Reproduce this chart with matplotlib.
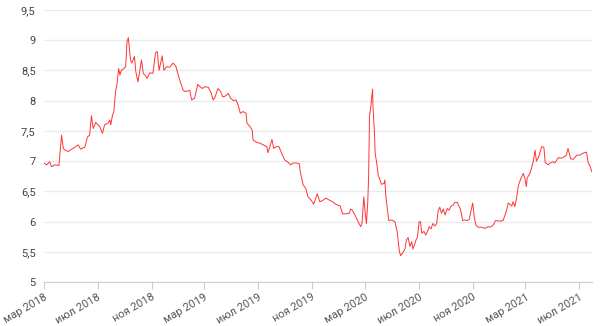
import matplotlib
matplotlib.use("Agg")
import matplotlib.pyplot as plt
import matplotlib.dates as mdates
from matplotlib.ticker import FuncFormatter, MultipleLocator
import pandas as pd

plt.rcParams['font.family'] = ['Roboto', 'DejaVu Sans']

# series
dates = [
    "2018-03-01", "2018-03-07", "2018-03-14", "2018-03-18", "2018-03-26", "2018-04-04",
    "2018-04-10", "2018-04-14", "2018-04-18", "2018-04-25", "2018-05-06", "2018-05-18",
    "2018-05-23", "2018-06-02", "2018-06-08", "2018-06-13", "2018-06-17", "2018-06-21",
    "2018-06-27", "2018-07-02", "2018-07-06", "2018-07-12", "2018-07-17", "2018-07-25",
    "2018-07-29", "2018-07-31", "2018-08-04", "2018-08-07", "2018-08-11", "2018-08-14",
    "2018-08-18", "2018-08-21", "2018-08-24", "2018-08-30", "2018-09-03", "2018-09-06",
    "2018-09-09", "2018-09-14", "2018-09-17", "2018-09-23", "2018-09-26", "2018-10-01",
    "2018-10-09", "2018-10-13", "2018-10-17", "2018-10-22", "2018-10-28", "2018-11-04",
    "2018-11-10", "2018-11-14", "2018-11-18", "2018-11-25", "2018-11-29", "2018-12-05",
    "2018-12-12", "2018-12-20", "2018-12-26", "2019-01-04", "2019-01-12", "2019-01-16",
    "2019-01-23", "2019-01-27", "2019-01-31", "2019-02-07", "2019-02-14", "2019-02-19",
    "2019-02-25", "2019-03-02", "2019-03-10", "2019-03-17", "2019-03-21", "2019-03-25",
    "2019-04-01", "2019-04-07", "2019-04-12", "2019-04-19", "2019-04-24", "2019-04-30",
    "2019-05-06", "2019-05-12", "2019-05-17", "2019-05-22", "2019-05-28", "2019-06-04",
    "2019-06-06", "2019-06-13", "2019-06-18", "2019-06-20", "2019-06-28", "2019-07-05",
    "2019-07-13", "2019-07-21", "2019-07-24", "2019-07-28", "2019-08-02", "2019-08-06",
    "2019-08-12", "2019-08-18", "2019-08-24", "2019-08-31", "2019-09-08", "2019-09-13",
    "2019-09-19", "2019-09-28", "2019-10-03", "2019-10-06", "2019-10-12", "2019-10-18",
    "2019-10-23", "2019-10-29", "2019-11-05", "2019-11-13", "2019-11-19", "2019-11-25",
    "2019-12-03", "2019-12-10", "2019-12-18", "2019-12-25", "2020-01-04", "2020-01-10",
    "2020-01-17", "2020-01-25", "2020-01-28", "2020-02-01", "2020-02-07", "2020-02-14",
    "2020-02-20", "2020-02-23", "2020-02-27", "2020-03-01", "2020-03-04", "2020-03-07",
    "2020-03-09", "2020-03-11", "2020-03-14", "2020-03-18", "2020-03-19", "2020-03-22",
    "2020-03-24", "2020-03-28", "2020-03-31", "2020-04-04", "2020-04-07", "2020-04-13",
    "2020-04-15", "2020-04-17", "2020-04-20", "2020-04-24", "2020-04-30", "2020-05-08",
    "2020-05-13", "2020-05-18", "2020-05-21", "2020-05-27", "2020-05-31", "2020-06-03",
    "2020-06-07", "2020-06-11", "2020-06-15", "2020-06-18", "2020-06-25", "2020-06-28",
    "2020-07-02", "2020-07-05", "2020-07-08", "2020-07-13", "2020-07-17", "2020-07-21",
    "2020-07-25", "2020-07-29", "2020-08-02", "2020-08-07", "2020-08-11", "2020-08-14",
    "2020-08-18", "2020-08-22", "2020-08-26", "2020-08-30", "2020-09-04", "2020-09-08",
    "2020-09-12", "2020-09-18", "2020-09-21", "2020-09-27", "2020-10-01", "2020-10-04",
    "2020-10-09", "2020-10-14", "2020-10-20", "2020-10-24", "2020-10-29", "2020-11-01",
    "2020-11-05", "2020-11-08", "2020-11-13", "2020-11-21", "2020-11-29", "2020-12-06",
    "2020-12-12", "2020-12-18", "2020-12-23", "2021-01-02", "2021-01-09", "2021-01-16",
    "2021-01-21", "2021-01-29", "2021-02-01", "2021-02-05", "2021-02-09", "2021-02-13",
    "2021-02-18", "2021-02-24", "2021-02-28", "2021-03-03", "2021-03-05", "2021-03-12",
    "2021-03-16", "2021-03-19", "2021-03-23", "2021-03-26", "2021-03-30", "2021-04-03",
    "2021-04-07", "2021-04-12", "2021-04-15", "2021-04-22", "2021-04-26", "2021-05-03",
    "2021-05-07", "2021-05-15", "2021-05-22", "2021-05-30", "2021-06-02", "2021-06-06",
    "2021-06-12", "2021-06-18", "2021-06-26", "2021-07-03", "2021-07-09", "2021-07-14",
    "2021-07-18", "2021-07-22", "2021-07-26", "2021-07-30",
]
values = [
    6.97, 6.94, 6.99, 6.91, 6.94, 6.93,
    7.43, 7.21, 7.18, 7.16, 7.21, 7.27,
    7.20, 7.23, 7.40, 7.43, 7.75, 7.54,
    7.64, 7.60, 7.57, 7.46, 7.60, 7.63,
    7.68, 7.60, 7.76, 7.82, 8.15, 8.26,
    8.53, 8.42, 8.50, 8.53, 8.56, 8.97,
    9.04, 8.67, 8.62, 8.73, 8.48, 8.31,
    8.67, 8.45, 8.42, 8.37, 8.46, 8.45,
    8.79, 8.81, 8.50, 8.74, 8.50, 8.56,
    8.55, 8.62, 8.57, 8.34, 8.17, 8.15,
    8.16, 8.17, 8.01, 8.04, 8.27, 8.23,
    8.20, 8.23, 8.22, 8.12, 8.01, 8.05,
    8.20, 8.15, 8.06, 8.08, 8.12, 8.04,
    8.00, 8.01, 7.93, 7.79, 7.82, 7.79,
    7.63, 7.57, 7.51, 7.35, 7.31, 7.30,
    7.27, 7.24, 7.14, 7.24, 7.36, 7.21,
    7.24, 7.24, 7.13, 7.02, 6.98, 6.94,
    6.97, 6.97, 6.96, 6.80, 6.61, 6.55,
    6.41, 6.37, 6.29, 6.46, 6.33, 6.35,
    6.39, 6.36, 6.33, 6.29, 6.26, 6.13,
    6.13, 6.14, 6.21, 6.19, 6.11, 6.00,
    5.92, 5.98, 6.41, 6.17, 5.97, 6.31,
    6.74, 7.73, 7.90, 8.19, 7.90, 7.51,
    7.13, 6.94, 6.76, 6.69, 6.62, 6.63,
    6.69, 6.44, 6.25, 6.02, 6.03, 6.00,
    5.84, 5.51, 5.44, 5.50, 5.56, 5.70,
    5.74, 5.59, 5.67, 5.55, 5.70, 5.74,
    6.00, 6.00, 5.81, 5.84, 5.78, 5.84,
    5.92, 5.88, 5.97, 5.93, 5.97, 6.17,
    6.24, 6.14, 6.21, 6.11, 6.22, 6.19,
    6.25, 6.28, 6.32, 6.32, 6.25, 6.21,
    6.02, 6.03, 6.02, 6.04, 6.21, 6.31,
    6.06, 5.95, 5.91, 5.91, 5.89, 5.92,
    5.91, 5.95, 6.02, 6.01, 6.02, 6.16,
    6.31, 6.26, 6.33, 6.25, 6.40, 6.60,
    6.70, 6.80, 6.71, 6.58, 6.72, 6.81,
    6.92, 7.00, 7.18, 7.00, 7.05, 7.14,
    7.24, 7.23, 6.98, 6.94, 6.97, 6.99,
    6.97, 7.06, 7.05, 7.08, 7.10, 7.21,
    7.04, 7.03, 7.10, 7.10, 7.13, 7.14,
    7.15, 6.97, 6.92, 6.83,
]
month_names = {3: "мар", 7: "июл", 11: "ноя"}

x = pd.to_datetime(dates)

fig = plt.figure(figsize=(6, 3.26), dpi=100)
ax = fig.add_axes([0.0733, 0.134, 0.9137, 0.836])

ax.plot(x, values, color="#ff3333", linewidth=0.7)

ax.set_ylim(5, 9.5)
ax.set_xlim(x[0], pd.Timestamp("2021-07-31"))
ax.yaxis.set_major_locator(MultipleLocator(0.5))
ax.yaxis.set_major_formatter(FuncFormatter(lambda v, p: f"{v:g}".replace(".", ",")))
ax.xaxis.set_major_locator(mdates.MonthLocator(bymonth=[3, 7, 11]))
ax.xaxis.set_major_formatter(FuncFormatter(
    lambda v, p: f"{month_names[mdates.num2date(v).month]} {mdates.num2date(v).year}"))

ax.grid(axis="y", color="#ebebeb", linewidth=1)
ax.set_axisbelow(True)
for s in ["top", "right", "left"]:
    ax.spines[s].set_visible(False)
ax.spines["bottom"].set_color("#cccccc")

ax.tick_params(axis="y", length=0, pad=6, labelsize=8, labelcolor="#444444")
ax.tick_params(axis="x", length=5, color="#cccccc", pad=2, labelsize=8, labelcolor="#555555")
for lab in ax.get_xticklabels():
    lab.set_rotation(30)
    lab.set_ha("right")
    lab.set_rotation_mode("anchor")

fig.savefig("out.png", dpi=100)
